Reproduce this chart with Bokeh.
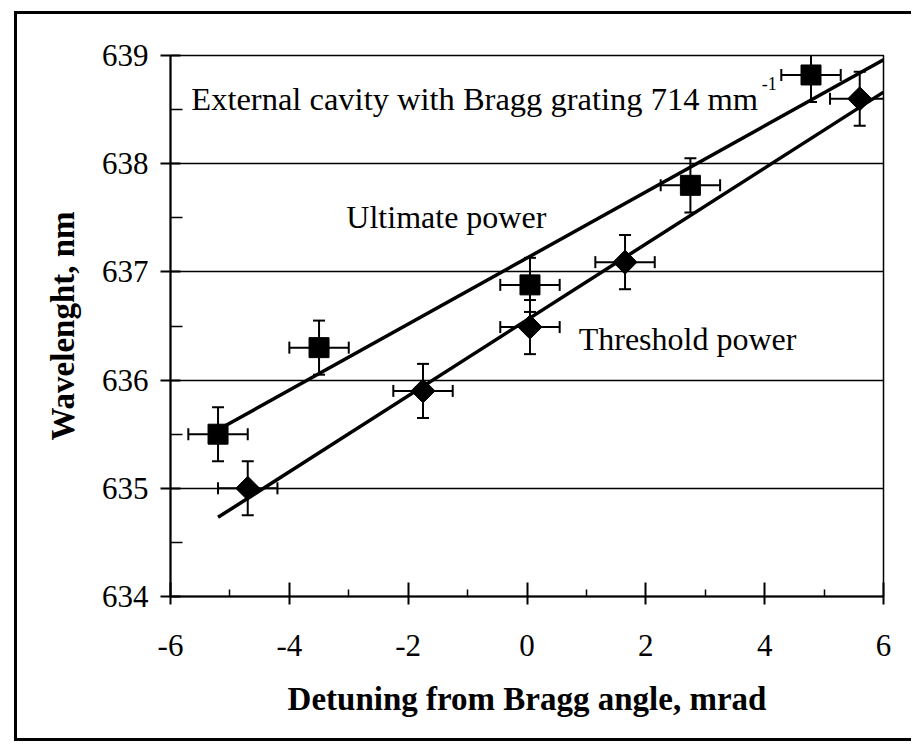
import numpy as np
from bokeh.plotting import figure
from bokeh.models import ColumnDataSource, Whisker, TeeHead, FixedTicker, CustomJSTickFormatter
from bokeh.core.properties import value
from bokeh.embed import file_html
from bokeh.resources import INLINE

# ---- data ----
ult_x = [-5.2, -3.5, 0.05, 2.75, 4.78]
ult_y = [635.5, 636.3, 636.88, 637.8, 638.82]
thr_x = [-4.7, -1.75, 0.05, 1.65, 5.6]
thr_y = [635.0, 635.9, 636.49, 637.09, 638.6]
x_err = [0.5, 0.5, 0.5, 0.5, 0.5]
y_err = [0.25, 0.25, 0.25, 0.25, 0.25]
fit_x = [-5.2, 6.0]
x_ticks = [-6, -4, -2, 0, 2, 4, 6]
y_ticks = [634, 635, 636, 637, 638, 639]

SERIF = "Liberation Serif"

p = figure(width=897, height=730, x_range=(-6, 6), y_range=(634, 639),
           output_backend="svg", toolbar_location=None,
           min_border_left=153, min_border_right=31, min_border_top=41, min_border_bottom=148,
           styles={"border-left": "3px solid black", "border-top": "3px solid black",
                   "border-bottom": "3px solid black",
                   "margin-left": "14px", "margin-top": "11px", "margin-bottom": "-12px"})
p.background_fill_color = "white"
p.border_fill_color = "white"
p.outline_line_color = "black"
p.outline_line_width = 1.5

# axes
fmt = CustomJSTickFormatter(code="return tick.toString();")
p.xaxis.ticker = FixedTicker(ticks=x_ticks, minor_ticks=[v for v in range(-5, 6, 2)])
p.yaxis.ticker = FixedTicker(ticks=y_ticks, minor_ticks=[v + 0.5 for v in y_ticks[:-1]])
for ax in (p.xaxis[0], p.yaxis[0]):
    ax.formatter = fmt
    ax.axis_line_width = 2
    ax.axis_line_color = "black"
    ax.major_tick_line_width = 2
    ax.major_tick_line_color = "black"
    ax.minor_tick_line_width = 1.5
    ax.minor_tick_line_color = "black"
    ax.major_label_text_font = SERIF
    ax.major_label_text_font_size = "31px"
    ax.major_label_text_color = "black"
    ax.axis_label_text_font = SERIF
    ax.axis_label_text_font_size = "33px"
    ax.axis_label_text_font_style = "bold"
    ax.axis_label_text_color = "black"

p.xaxis.axis_label = "Detuning from Bragg angle, mrad"
p.xaxis.major_tick_in = 14
p.xaxis.major_tick_out = 8
p.xaxis.minor_tick_in = 7
p.xaxis.minor_tick_out = 0
p.xaxis.major_label_standoff = 30
p.xaxis.axis_label_standoff = 22

p.yaxis.axis_label = "Wavelenght, nm"
p.yaxis.major_tick_in = 10
p.yaxis.major_tick_out = 10
p.yaxis.minor_tick_in = 12
p.yaxis.minor_tick_out = 0
p.yaxis.major_label_standoff = 12
p.yaxis.axis_label_standoff = 18

p.xgrid.grid_line_color = None
p.ygrid.grid_line_color = "black"
p.ygrid.grid_line_width = 1.5

# fitted lines (least squares through the read points)
fx = np.array(fit_x)
ku, bu = np.polyfit(ult_x, ult_y, 1)
kt, bt = np.polyfit(thr_x, thr_y, 1)
p.line(fx, ku * fx + bu, line_color="black", line_width=3.5)
p.line(fx, kt * fx + bt, line_color="black", line_width=3.5)

# error bars
for xs, ys in ((ult_x, ult_y), (thr_x, thr_y)):
    xs = np.array(xs); ys = np.array(ys)
    src = ColumnDataSource(dict(x=xs, y=ys,
                                yl=ys - np.array(y_err), yu=ys + np.array(y_err),
                                xl=xs - np.array(x_err), xu=xs + np.array(x_err)))
    wv = Whisker(source=src, base="x", lower="yl", upper="yu", dimension="height",
                 line_width=2, line_color="black",
                 lower_head=TeeHead(size=12, line_width=2, line_color="black"),
                 upper_head=TeeHead(size=12, line_width=2, line_color="black"))
    wh = Whisker(source=src, base="y", lower="xl", upper="xu", dimension="width",
                 line_width=2, line_color="black",
                 lower_head=TeeHead(size=12, line_width=2, line_color="black"),
                 upper_head=TeeHead(size=12, line_width=2, line_color="black"))
    p.add_layout(wv)
    p.add_layout(wh)

# markers
p.scatter(ult_x, ult_y, marker="square", size=20, fill_color="black", line_color="black", level="overlay")
p.scatter(thr_x, thr_y, marker="square", angle=np.pi / 4, size=17,
          fill_color="black", line_color="black", level="overlay")

# annotations
p.text(x=[-5.65], y=[638.6], text=["External cavity with Bragg grating 714 mm"],
       text_font=value(SERIF), text_font_size="32.5px", text_color="black",
       text_baseline="alphabetic", text_align="left")
p.text(x=[3.95], y=[638.74], text=["-1"],
       text_font=value(SERIF), text_font_size="18px", text_color="black",
       text_baseline="alphabetic", text_align="left")
p.text(x=[-3.04], y=[637.51], text=["Ultimate power"],
       text_font=value(SERIF), text_font_size="32px", text_color="black",
       text_baseline="alphabetic", text_align="left")
p.text(x=[0.87], y=[636.38], text=["Threshold power"],
       text_font=value(SERIF), text_font_size="32px", text_color="black",
       text_baseline="alphabetic", text_align="left")

open("out.html", "w").write(file_html(p, INLINE))
